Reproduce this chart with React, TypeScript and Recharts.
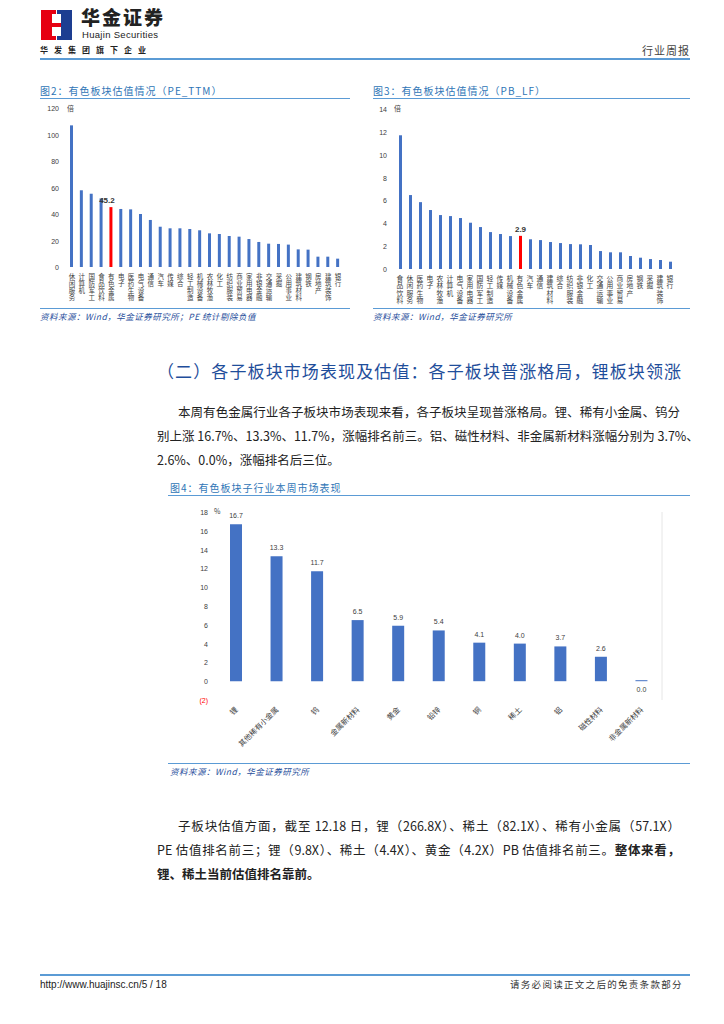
import React from "react";
import { BarChart, Bar, XAxis, YAxis, Cell, LabelList } from "recharts";

const peCategories = ["休闲服务", "计算机", "国防军工", "食品饮料", "有色金属", "电子", "医药生物", "电气设备", "通信", "汽车", "传媒", "综合", "轻工制造", "机械设备", "农林牧渔", "化工", "纺织服装", "商业贸易", "家用电器", "非银金融", "交通运输", "采掘", "公用事业", "建筑材料", "钢铁", "房地产", "建筑装饰", "银行"];
const peValues = [106.9, 57.9, 55.3, 51.8, 45.2, 43.8, 43.5, 40.0, 35.5, 30.4, 29.2, 29.2, 28.7, 27.7, 25.4, 24.9, 23.4, 22.9, 21.1, 18.9, 17.6, 17.4, 16.9, 13.3, 13.1, 7.8, 7.8, 6.3];
const peTicks = [0, 20, 40, 60, 80, 100, 120];

const pbCategories = ["食品饮料", "休闲服务", "医药生物", "电子", "农林牧渔", "计算机", "电气设备", "家用电器", "国防军工", "轻工制造", "传媒", "机械设备", "有色金属", "汽车", "通信", "建筑材料", "综合", "纺织服装", "非银金融", "化工", "交通运输", "公用事业", "商业贸易", "房地产", "钢铁", "采掘", "建筑装饰", "银行"];
const pbValues = [11.7, 6.47, 5.85, 5.16, 4.72, 4.63, 4.46, 4.05, 3.67, 3.23, 3.06, 2.88, 2.9, 2.6, 2.53, 2.36, 2.27, 2.18, 2.16, 2.1, 1.57, 1.46, 1.46, 1.14, 0.99, 0.87, 0.79, 0.64];
const pbTicks = [0, 2, 4, 6, 8, 10, 12, 14];

const subCategories = ["锂", "其他稀有小金属", "钨", "金属新材料", "黄金", "铅锌", "铜", "稀土", "铝", "磁性材料", "非金属新材料"];
const subValues = [16.7, 13.3, 11.7, 6.5, 5.9, 5.4, 4.1, 4.0, 3.7, 2.6, 0.0];
const subTicks = [-2, 0, 2, 4, 6, 8, 10, 12, 14, 16, 18];

const highlight = "有色金属";

const BLUE = "#4472C4";
const RED = "#FF0000";
const LINE = "#5B9BD5";
const CN = "'Noto Sans CJK SC', sans-serif";
const NUM = "'Liberation Sans', 'Noto Sans CJK SC', sans-serif";

const peData = peCategories.map((name, i) => ({ name, value: peValues[i] }));
const pbData = pbCategories.map((name, i) => ({ name, value: pbValues[i] }));
const subData = subCategories.map((name, i) => ({ name, value: subValues[i] }));

// stacked (vertical) category labels under the bars
function VerticalTick(props: any) {
  const { x, y, payload, size, step } = props;
  return (
    <text
      x={x}
      y={y - 2}
      fontSize={size}
      fill="#404040"
      fontFamily={CN}
      letterSpacing={step - size}
      style={{ writingMode: "vertical-rl", textOrientation: "upright" } as any}
    >
      {payload.value}
    </text>
  );
}

function SlantTick(props: any) {
  const { x, y, payload } = props;
  return (
    <g transform={`translate(${x},${y})`}>
      <text textAnchor="end" transform="rotate(-45)" fontSize={7.5} dy={3} fill="#404040" fontFamily={CN}>
        {payload.value}
      </text>
    </g>
  );
}

function ValueTick(props: any) {
  const { x, y, payload } = props;
  const v = payload.value;
  return (
    <text x={x} y={y} dy={3} textAnchor="end" fontSize={7} fill={v < 0 ? RED : "#404040"} fontFamily={NUM}>
      {v < 0 ? `(${Math.abs(v)})` : v}
    </text>
  );
}

function HighlightLabel(props: any) {
  const { x, y, width, value, index, data, dx } = props;
  if (data[index].name !== highlight) return null;
  return (
    <text x={x + width / 2 + dx} y={y - 4} textAnchor="middle" fontSize={8} fontWeight="bold" fill="#333" fontFamily={NUM}>
      {value.toFixed(1)}
    </text>
  );
}

function SubLabel(props: any) {
  const { x, y, width, height, value } = props;
  const below = value <= 0.05;
  return (
    <text x={x + width / 2} y={below ? y + Math.abs(height) + 11 : y - 6} textAnchor="middle" fontSize={7} fill="#404040" fontFamily={NUM}>
      {value.toFixed(1)}
    </text>
  );
}

const abs = (left: number, top: number, extra: React.CSSProperties = {}): React.CSSProperties => ({
  position: "absolute",
  left,
  top,
  whiteSpace: "nowrap",
  lineHeight: 1,
  ...extra,
});

const hline = (left: number, top: number, width: number, h = 1.5) => (
  <div style={{ position: "absolute", left, top, width, height: h, background: LINE }} />
);

const justLine = (left: number, top: number, width: number, content: React.ReactNode, last = false) => (
  <div
    style={{
      position: "absolute",
      left,
      top,
      width,
      fontFamily: CN,
      fontSize: 12.5,
      color: "#222",
      textAlign: last ? "left" : "justify",
      textAlignLast: last ? "left" : "justify",
      whiteSpace: "nowrap",
      lineHeight: "16px",
    }}
  >
    {content}
  </div>
);

export default function App() {
  const titleStyle: React.CSSProperties = { fontFamily: CN, fontSize: 10, color: "#2E75B6", letterSpacing: 1 };
  const srcStyle: React.CSSProperties = { fontFamily: CN, fontSize: 8.5, color: "#1F4E9B", fontStyle: "italic", letterSpacing: 0.5 };

  return (
    <div style={{ position: "absolute", left: 0, top: 0, width: 724, height: 1024, background: "#fff", overflow: "hidden" }}>
      {/* header */}
      <div style={{ position: "absolute", left: 41, top: 10, width: 15, height: 30, background: "#E60012" }} />
      <div style={{ position: "absolute", left: 57, top: 10, width: 15, height: 30, background: "#1D3E91" }} />
      <div style={{ position: "absolute", left: 52, top: 14, width: 4, height: 22, background: "#fff" }} />
      <div style={{ position: "absolute", left: 57, top: 14, width: 4, height: 22, background: "#fff" }} />
      <div style={{ position: "absolute", left: 52, top: 23, width: 9, height: 4, background: "#E60012" }} />
      <div style={abs(81, 7, { fontFamily: CN, fontSize: 19, fontWeight: 900, color: "#222", letterSpacing: 2 })}>华金证券</div>
      <div style={abs(82, 30, { fontFamily: NUM, fontSize: 9.5, color: "#222", letterSpacing: 0.3 })}>Huajin Securities</div>
      <div style={abs(40, 46, { fontFamily: CN, fontSize: 8, fontWeight: 700, color: "#222", letterSpacing: 6 })}>华发集团旗下企业</div>
      <div style={abs(642, 45, { fontFamily: CN, fontSize: 11, color: "#444", letterSpacing: 1 })}>行业周报</div>
      {hline(40, 58, 650, 2)}

      {/* figure 2 */}
      <div style={abs(40, 86, titleStyle)}>图2：有色板块估值情况（PE_TTM）</div>
      {hline(40, 98, 310, 1.2)}
      <div style={abs(67, 105, { fontFamily: CN, fontSize: 7, color: "#404040" })}>倍</div>
      <div style={{ position: "absolute", left: 30, top: 100 }}>
        <BarChart width={320} height={210} data={peData} margin={{ top: 8, right: 7, bottom: 0, left: 0 }} barCategoryGap={0}>
          <XAxis dataKey="name" interval={0} axisLine={false} tickLine={false} height={43} tick={<VerticalTick size={6.5} step={7} />} />
          <YAxis width={37} domain={[0, 120]} ticks={peTicks} interval={0} axisLine={false} tickLine={false} tick={<ValueTick />} />
          <Bar dataKey="value" barSize={3} isAnimationActive={false}>
            {peData.map((d, i) => (
              <Cell key={i} fill={d.name === highlight ? RED : BLUE} />
            ))}
            <LabelList dataKey="value" content={<HighlightLabel data={peData} dx={-4} />} />
          </Bar>
        </BarChart>
      </div>
      {hline(40, 308, 310, 1.2)}
      <div style={abs(40, 312, srcStyle)}>资料来源：Wind，华金证券研究所；PE 统计剔除负值</div>

      {/* figure 3 */}
      <div style={abs(373, 86, titleStyle)}>图3：有色板块估值情况（PB_LF）</div>
      {hline(373, 98, 317, 1.2)}
      <div style={abs(394, 105, { fontFamily: CN, fontSize: 7, color: "#404040" })}>倍</div>
      <div style={{ position: "absolute", left: 360, top: 101 }}>
        <BarChart width={330} height={207} data={pbData} margin={{ top: 8, right: 15, bottom: 0, left: 0 }} barCategoryGap={0}>
          <XAxis dataKey="name" interval={0} axisLine={false} tickLine={false} height={39} tick={<VerticalTick size={6.8} step={7.5} />} />
          <YAxis width={35} domain={[0, 14]} ticks={pbTicks} interval={0} axisLine={false} tickLine={false} tick={<ValueTick />} />
          <Bar dataKey="value" barSize={3} isAnimationActive={false}>
            {pbData.map((d, i) => (
              <Cell key={i} fill={d.name === highlight ? RED : BLUE} />
            ))}
            <LabelList dataKey="value" content={<HighlightLabel data={pbData} dx={0} />} />
          </Bar>
        </BarChart>
      </div>
      {hline(373, 308, 317, 1.2)}
      <div style={abs(373, 312, srcStyle)}>资料来源：Wind，华金证券研究所</div>

      {/* section text */}
      <div style={{ position: "absolute", left: 157, top: 361, width: 524, fontFamily: CN, fontSize: 17, lineHeight: "20px", color: "#1F4E9B", textAlignLast: "justify", whiteSpace: "nowrap" }}>
        （二）各子板块市场表现及估值：各子板块普涨格局，锂板块领涨
      </div>
      {justLine(178, 404, 502, "本周有色金属行业各子板块市场表现来看，各子板块呈现普涨格局。锂、稀有小金属、钨分")}
      {justLine(157, 428, 523, "别上涨 16.7%、13.3%、11.7%，涨幅排名前三。铝、磁性材料、非金属新材料涨幅分别为 3.7%、")}
      {justLine(157, 452, 523, "2.6%、0.0%，涨幅排名后三位。", true)}

      {/* figure 4 */}
      <div style={abs(170, 483, titleStyle)}>图4：有色板块子行业本周市场表现</div>
      {hline(168, 495, 522, 1.2)}
      <div style={abs(214, 508, { fontFamily: CN, fontSize: 7, color: "#404040" })}>%</div>
      <div style={{ position: "absolute", left: 160, top: 500 }}>
        <BarChart width={520} height={262} data={subData} margin={{ top: 12, right: 8, bottom: 0, left: 0 }} barCategoryGap={0}>
          <XAxis dataKey="name" interval={0} axisLine={false} tickLine={false} height={62} tick={<SlantTick />} />
          <YAxis yAxisId="l" width={56} domain={[-2, 18]} ticks={subTicks} interval={0} axisLine={false} tickLine={false} tick={<ValueTick />} />
          <YAxis yAxisId="r" orientation="right" width={10} domain={[-2, 18]} ticks={subTicks} interval={0} axisLine={{ stroke: "#E6E6E6" }} tickLine={{ stroke: "#E6E6E6" }} tickSize={3} tick={false} />
          <Bar yAxisId="l" dataKey="value" barSize={12} fill={BLUE} minPointSize={1} isAnimationActive={false}>
            <LabelList dataKey="value" content={<SubLabel />} />
          </Bar>
        </BarChart>
      </div>
      {hline(168, 763, 522, 1.2)}
      <div style={abs(170, 767, srcStyle)}>资料来源：Wind，华金证券研究所</div>

      {justLine(178, 818, 502, "子板块估值方面，截至 12.18 日，锂（266.8X）、稀土（82.1X）、稀有小金属（57.1X）")}
      {justLine(157, 842, 523, <>PE 估值排名前三；锂（9.8X）、稀土（4.4X）、黄金（4.2X）PB 估值排名前三。<b>整体来看，</b></>)}
      {justLine(157, 866, 523, <b>锂、稀土当前估值排名靠前。</b>, true)}

      {/* footer */}
      {hline(40, 974, 650, 1.5)}
      <div style={abs(40, 980, { fontFamily: NUM, fontSize: 10, color: "#222" })}>http://www.huajinsc.cn/5 / 18</div>
      <div style={abs(510, 980, { fontFamily: CN, fontSize: 9.5, color: "#333", letterSpacing: 1.3 })}>请务必阅读正文之后的免责条款部分</div>
    </div>
  );
}
